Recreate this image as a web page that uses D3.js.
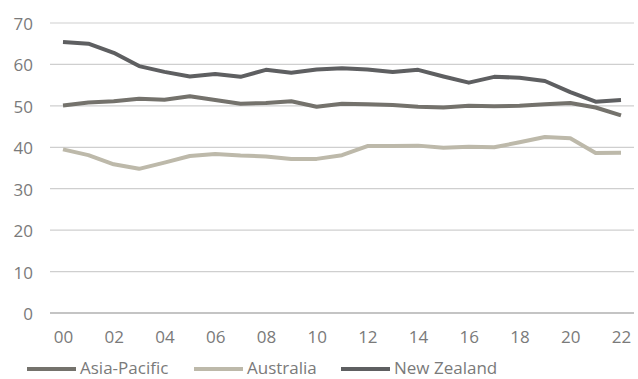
<!DOCTYPE html>
<html><head><meta charset="utf-8">
<script src="https://cdn.jsdelivr.net/npm/d3@7"></script>
<style>body{margin:0;background:#fff}svg{display:block}text{font-family:"Open Sans",sans-serif;fill:#7a7a7a}</style>
</head><body><svg id="c" width="638" height="379"></svg>
<script>
const years = ["00","01","02","03","04","05","06","07","08","09","10","11","12","13","14","15","16","17","18","19","20","21","22"];
const tickYears = ["00","02","04","06","08","10","12","14","16","18","20","22"];
const yTicks = [0,10,20,30,40,50,60,70];
const asiaPacific = [50.1,50.8,51.1,51.7,51.5,52.3,51.4,50.5,50.7,51.1,49.8,50.5,50.4,50.2,49.8,49.6,50.0,49.9,50.0,50.4,50.7,49.6,47.7];
const australia = [39.5,38.1,35.9,34.8,36.3,37.9,38.4,38.0,37.8,37.2,37.2,38.1,40.3,40.3,40.4,39.9,40.1,40.0,41.2,42.5,42.2,38.6,38.7];
const newZealand = [65.4,65.0,62.8,59.6,58.2,57.1,57.7,57.0,58.7,58.0,58.8,59.1,58.8,58.2,58.7,57.1,55.6,57.0,56.8,56.0,53.3,51.0,51.4];
const seriesNames = ["Asia-Pacific","Australia","New Zealand"];
const colors = ["#74726c","#bdb9aa","#5e5f61"];

const svg = d3.select("#c");
const x = d3.scalePoint().domain(years).range([63,621]);
const y = d3.scaleLinear().domain([0,70]).range([313,23]);

svg.append("g").selectAll("line").data(yTicks).join("line")
  .attr("x1",50).attr("x2",634).attr("y1",d=>y(d)).attr("y2",d=>y(d))
  .attr("stroke",d=>d===0?"#b0b0b0":"#cfcfcf").attr("stroke-width",d=>d===0?1.5:1.2);

const ya = svg.append("g").attr("transform","translate(33,1)")
  .call(d3.axisLeft(y).tickValues(yTicks).tickSize(0).tickPadding(0));
ya.select(".domain").remove();
ya.selectAll("text").style("font-size","17px").attr("fill","#7a7a7a").attr("text-anchor","end");

const xa = svg.append("g").attr("transform","translate(0,331)")
  .call(d3.axisBottom(x).tickValues(tickYears).tickSize(0).tickPadding(0));
xa.select(".domain").remove();
xa.selectAll("text").style("font-size","17px").attr("fill","#7a7a7a");

const data = [asiaPacific, australia, newZealand];
const line = d3.line().x((d,i)=>x(years[i])).y(d=>y(d));
svg.append("g").selectAll("path").data(data).join("path")
  .attr("d",line).attr("fill","none").attr("stroke",(d,i)=>colors[i])
  .attr("stroke-width",4).attr("stroke-linejoin","round");

const legX = [27,194,341];
const lg = svg.append("g").selectAll("g").data(seriesNames).join("g")
  .attr("transform",(d,i)=>`translate(${legX[i]},369)`);
lg.append("line").attr("x1",0).attr("x2",49).attr("y1",0).attr("y2",0)
  .attr("stroke",(d,i)=>colors[i]).attr("stroke-width",4);
lg.append("text").attr("x",53).attr("y",5).style("font-size","17px").attr("fill","#7a7a7a").text(d=>d);
</script></body></html>
